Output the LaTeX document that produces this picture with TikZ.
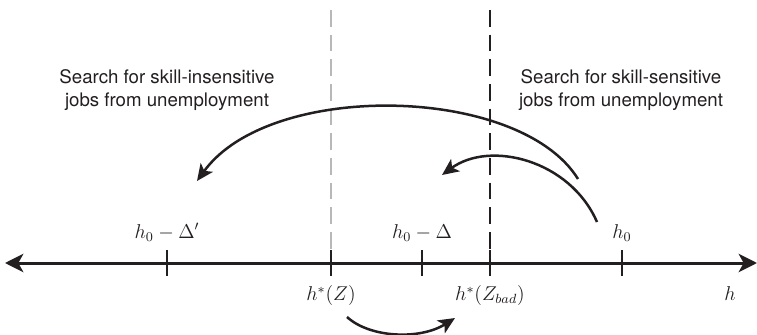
\documentclass[tikz,border=0pt]{standalone}
\usepackage{fontspec}
\setsansfont{TeX Gyre Heros}
\definecolor{axisblack}{HTML}{231F20}
\definecolor{cutgray}{HTML}{B8B8B8}
\usetikzlibrary{arrows.meta, positioning}
\tikzset{
   tickmark/.style={line width=1.5pt, axisblack},
   cutline/.style={line width=1.5pt, dash pattern=on 10pt off 4.8pt},
   jumparrow/.style={-{Stealth[length=10pt,width=9pt,inset=2.5pt]}, line width=1.5pt, axisblack},
   searchtext/.style={font=\sffamily\fontsize{11.2}{13.8}\selectfont, align=center, text=axisblack},
   mathlabel/.style={font=\fontsize{11.5}{13}\selectfont, anchor=base, text=axisblack}
}

\begin{document}
\begin{tikzpicture}[x=0.6pt, y=-0.6pt]
            \useasboundingbox (0,0) rectangle (757,335);
            % Skill axis, open at both ends
            \coordinate (axL) at (5,263);
            \coordinate (axR) at (757,263);
            \draw[{Stealth[length=11pt,width=11pt,inset=3pt]}-{Stealth[length=11pt,width=11pt,inset=3pt]},
               line width=1.8pt, axisblack] (axL) -- (axR);
            % Ticks
            \foreach \tx/\tn in {167/tDp, 331/tZ, 422/tD, 490/tZbad, 622/tH} {
               \draw[tickmark] (\tx,250) coordinate (\tn-top) -- (\tx,276) coordinate (\tn-bot);
            }
            % Cut-offs h*(Z) (gray) and h*(Z_bad) (black)
            \coordinate (cutZ) at (331,10);
            \coordinate (cutZbad) at (490,10);
            \draw[cutline, cutgray] (cutZ) -- (tZ-top);
            \draw[cutline, axisblack] (cutZbad) -- (tZbad-top);
            % Tick labels
            \node[mathlabel] (lDp) at (167,238) {$h_0 - \Delta'$};
            \node[mathlabel] (lD) at (422,238) {$h_0 - \Delta$};
            \node[mathlabel] (lH) at (622,238) {$h_0$};
            \node[mathlabel] (lZ) at (331,301) {$h^*(Z)$};
            \node[mathlabel] (lZbad) at (490,301) {$h^*(Z_{bad})$};
            \node[mathlabel] (lh) at (730,301) {$h$};
            % Search regions
            \node[searchtext] (srchIns) at (167,90) {Search for skill-insensitive\\jobs from unemployment};
            \node[searchtext] (srchSen) at (621,90) {Search for skill-sensitive\\jobs from unemployment};
            % Jumps
            \coordinate (bigS) at (578,179);
            \coordinate (bigE) at (197,181);
            \draw[jumparrow] (bigS) .. controls (520,85) and (270,80) .. (bigE);
            \coordinate (smallS) at (597,222);
            \coordinate (smallE) at (442,175);
            \draw[jumparrow] (smallS) .. controls (570,160) and (490,140) .. (smallE);
            \coordinate (lowS) at (347,317);
            \coordinate (lowE) at (455,318);
            \draw[jumparrow] (lowS) .. controls (370,338) and (420,340) .. (lowE);
         \end{tikzpicture}
\end{document}
